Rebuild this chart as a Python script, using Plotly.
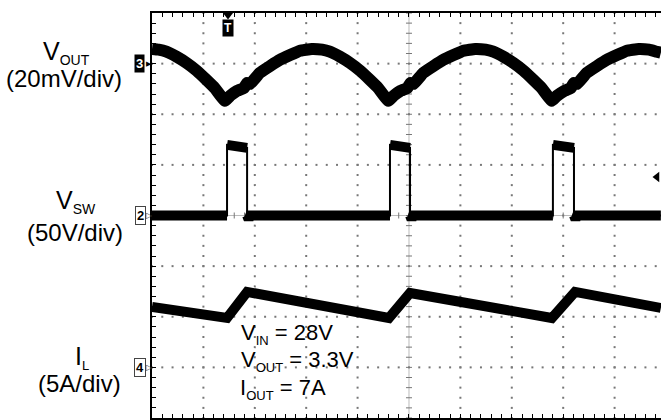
import numpy as np
import plotly.graph_objects as go

# ---------------- data (time in horizontal divisions) ----------------
# Channel 3: V_OUT ripple, mV relative to channel-3 marker (20 mV/div)
vout_t = [0.00, 0.13, 0.28, 0.48, 0.67, 0.87, 1.06, 1.22, 1.42, 1.52, 1.65, 1.79, 1.85, 1.91,
          2.10, 2.49, 2.88, 3.11, 3.31, 3.46, 3.66, 3.85, 4.05, 4.24, 4.40, 4.60, 4.70, 4.83,
          4.97, 5.03, 5.09, 5.28, 5.67, 6.06, 6.29, 6.49, 6.64, 6.84, 7.03, 7.23, 7.42, 7.58,
          7.78, 7.88, 8.02, 8.15, 8.21, 8.27, 8.46, 8.85, 9.24, 9.47, 9.67, 9.82, 9.90]
vout_mv = [5.8, 5.5, 4.7, 2.7, 0.3, -2.8, -6.4, -9.6, -14.7, -12.7, -10.8, -9.6, -7.6, -8.0,
           -3.6, 1.5, 5.1, 5.8, 5.5, 4.7, 2.7, 0.3, -2.8, -6.4, -9.6, -14.7, -12.7, -10.8,
           -9.6, -7.6, -8.0, -3.6, 1.5, 5.1, 5.8, 5.5, 4.7, 2.7, 0.3, -2.8, -6.4, -9.6,
           -14.7, -12.7, -10.8, -9.6, -7.6, -8.0, -3.6, 1.5, 5.1, 5.8, 5.5, 4.7, 4.3]

# Channel 2: switch node V_SW, volts (50 V/div)
vsw_t = [0.00, 1.46, 1.46, 1.85, 1.85, 1.88, 1.91, 4.63, 4.63, 5.02, 5.02, 5.05, 5.08,
         7.80, 7.80, 8.21, 8.21, 8.24, 8.27, 9.90]
vsw_v = [0, 0, 69.8, 66.8, 0, -4, 0, 0, 69.8, 66.8, 0, -4, 0,
         0, 69.8, 66.8, 0, -4, 0, 0]

# Channel 4: inductor current I_L, amps (5 A/div)
il_t = [0.00, 1.46, 1.85, 4.61, 5.02, 7.78, 8.23, 9.90]
il_a = [5.97, 4.88, 7.45, 4.88, 7.35, 4.88, 7.45, 5.87]

# channel settings: (marker position in divisions, units per division)
CH3_POS, CH3_SCALE = 7.0, 20.0
CH2_POS, CH2_SCALE = 4.0, 50.0
CH4_POS, CH4_SCALE = 1.0, 5.0

# ---------------- geometry ----------------
W, H = 661, 420
ML, MT, MB, MR = 152, 13, 2, 0
XR = 9.903                  # visible divisions (screen is cut on the right)
YR = 8.0
PW, PH = W - ML - MR, H - MT - MB


def X(px):   # pixel -> data division
    return (px - ML) / PW * XR


def Y(py):
    return (H - MB - py) / PH * YR


def XP(px):  # pixel -> paper
    return (px - ML) / PW


def YP(py):
    return (H - MB - py) / PH


FONT = "Liberation Sans, Arial, Helvetica, sans-serif"

fig = go.Figure()

# ---- graticule dots ----
gx, gy = [], []
step = 0.2
for i in range(1, 10):
    if i == 5:
        continue
    for k in np.arange(0, YR + 1e-9, step):
        gx.append(i); gy.append(k)
for j in range(1, 8):
    if j == 4:
        continue
    for k in np.arange(0, XR, step):
        gx.append(k); gy.append(j)
fig.add_trace(go.Scatter(x=gx, y=gy, mode="markers",
                         marker=dict(size=2, color="#777", symbol="square", line=dict(width=0)),
                         hoverinfo="skip", showlegend=False))

# ---- centre cross axes ----
fig.add_shape(type="line", x0=5, x1=5, y0=0, y1=YR, line=dict(color="#bbb", width=1), layer="below")
fig.add_shape(type="line", x0=0, x1=XR, y0=4, y1=4, line=dict(color="#bbb", width=1), layer="below")
tx, ty = [], []
dx, dy = 3 / PW * XR, 3 / PH * YR
for k in np.arange(0, YR + 1e-9, step):
    tx += [5 - dx, 5 + dx, None]; ty += [k, k, None]
for k in np.arange(0, XR, step):
    tx += [k, k, None]; ty += [4 - dy, 4 + dy, None]
fig.add_trace(go.Scatter(x=tx, y=ty, mode="lines", line=dict(color="#777", width=1),
                         hoverinfo="skip", showlegend=False))

# ---- waveforms ----
vout_y = [CH3_POS + v / CH3_SCALE for v in vout_mv]
fig.add_trace(go.Scatter(x=vout_t, y=vout_y, mode="lines",
                         line=dict(color="black", width=12, shape="spline", smoothing=0.3),
                         hoverinfo="skip", showlegend=False))

vsw_y = [CH2_POS + v / CH2_SCALE for v in vsw_v]
# thin trace incl. edges
fig.add_trace(go.Scatter(x=vsw_t, y=vsw_y, mode="lines", line=dict(color="black", width=2),
                         hoverinfo="skip", showlegend=False))
# thick noisy band on the flat parts (break at vertical edges)
bx, by = [], []
for i in range(len(vsw_t)):
    if i > 0 and vsw_t[i] == vsw_t[i - 1]:
        bx.append(None); by.append(None)
    bx.append(vsw_t[i]); by.append(vsw_y[i])
fig.add_trace(go.Scatter(x=bx, y=by, mode="lines", line=dict(color="black", width=10),
                         hoverinfo="skip", showlegend=False))

il_y = [CH4_POS + a / CH4_SCALE for a in il_a]
fig.add_trace(go.Scatter(x=il_t, y=il_y, mode="lines", line=dict(color="black", width=10),
                         hoverinfo="skip", showlegend=False))

# ---- markers: trigger, trigger level ----
fig.add_trace(go.Scatter(x=[X(228)], y=[Y(15)], mode="markers",
                         marker=dict(symbol="triangle-down", size=9, color="black"),
                         cliponaxis=False, hoverinfo="skip", showlegend=False))
fig.add_trace(go.Scatter(x=[X(657)], y=[Y(177)], mode="markers",
                         marker=dict(symbol="triangle-left", size=9, color="black"),
                         cliponaxis=False, hoverinfo="skip", showlegend=False))

ann = []


def A(px, py, text, size, xanchor="center", **kw):
    d = dict(x=XP(px), y=YP(py), xref="paper", yref="paper", text=text, showarrow=False,
             xanchor=xanchor, yanchor="middle",
             font=dict(family=FONT, size=size, color=kw.pop("color", "black")))
    d.update(kw)
    ann.append(d)


def sub(s, px):
    return "<sub><span style='font-size:%dpx'>%s</span></sub>" % (px, s)


# trigger badge
A(228, 28, "<b>T</b>", 12, color="white", bgcolor="black", borderpad=1)
# channel badges (with pointer)
A(149, 64, "▶", 7, color="black")
A(149, 215, "▷", 8, color="#444")
A(149, 367, "▷", 8, color="#444")
A(139, 64, "<b>3</b>", 13, color="white", bgcolor="black", borderpad=1)
A(140, 215, "<b>2</b>", 13, bgcolor="white", bordercolor="#444", borderwidth=1, borderpad=1)
A(140, 367, "<b>4</b>", 13, bgcolor="white", bordercolor="#444", borderwidth=1, borderpad=1)

# left labels
A(41, 52, "V" + sub("OUT", 14), 25, xanchor="left")
A(64, 78, "(20mV/div)", 24)
A(54, 201, "V" + sub("SW", 14), 25, xanchor="left")
A(75, 232, "(50V/div)", 24)
A(73, 357, "I" + sub("L", 13), 25, xanchor="left")
A(79, 383, "(5A/div)", 24)

# conditions
A(239, 334, "V" + sub("IN", 13) + " = 28V", 22, xanchor="left")
A(239, 361, "V" + sub("OUT", 13) + " = 3.3V", 22, xanchor="left")
A(238, 389, "I" + sub("OUT", 13) + " = 7A", 22, xanchor="left")

fig.update_layout(
    template="none",
    width=W, height=H,
    margin=dict(l=ML, r=MR, t=MT, b=MB, autoexpand=False),
    paper_bgcolor="white", plot_bgcolor="white",
    hovermode=False,
    annotations=ann,
    xaxis=dict(range=[0, XR], showgrid=False, zeroline=False, showticklabels=False,
               automargin=False,
               showline=True, linecolor="black", linewidth=2, mirror="ticks",
               ticks="inside", ticklen=4, tickwidth=1, tickcolor="black",
               tick0=0, dtick=0.2),
    yaxis=dict(range=[0, YR], showgrid=False, zeroline=False, showticklabels=False,
               automargin=False,
               showline=True, linecolor="black", linewidth=2, mirror=False,
               ticks="inside", ticklen=4, tickwidth=1, tickcolor="black",
               tick0=0, dtick=0.2),
)

fig.write_html("out.html",
               config={"displayModeBar": False, "staticPlot": True},
               post_script="document.body.style.margin='0';document.body.style.overflow='hidden';")
